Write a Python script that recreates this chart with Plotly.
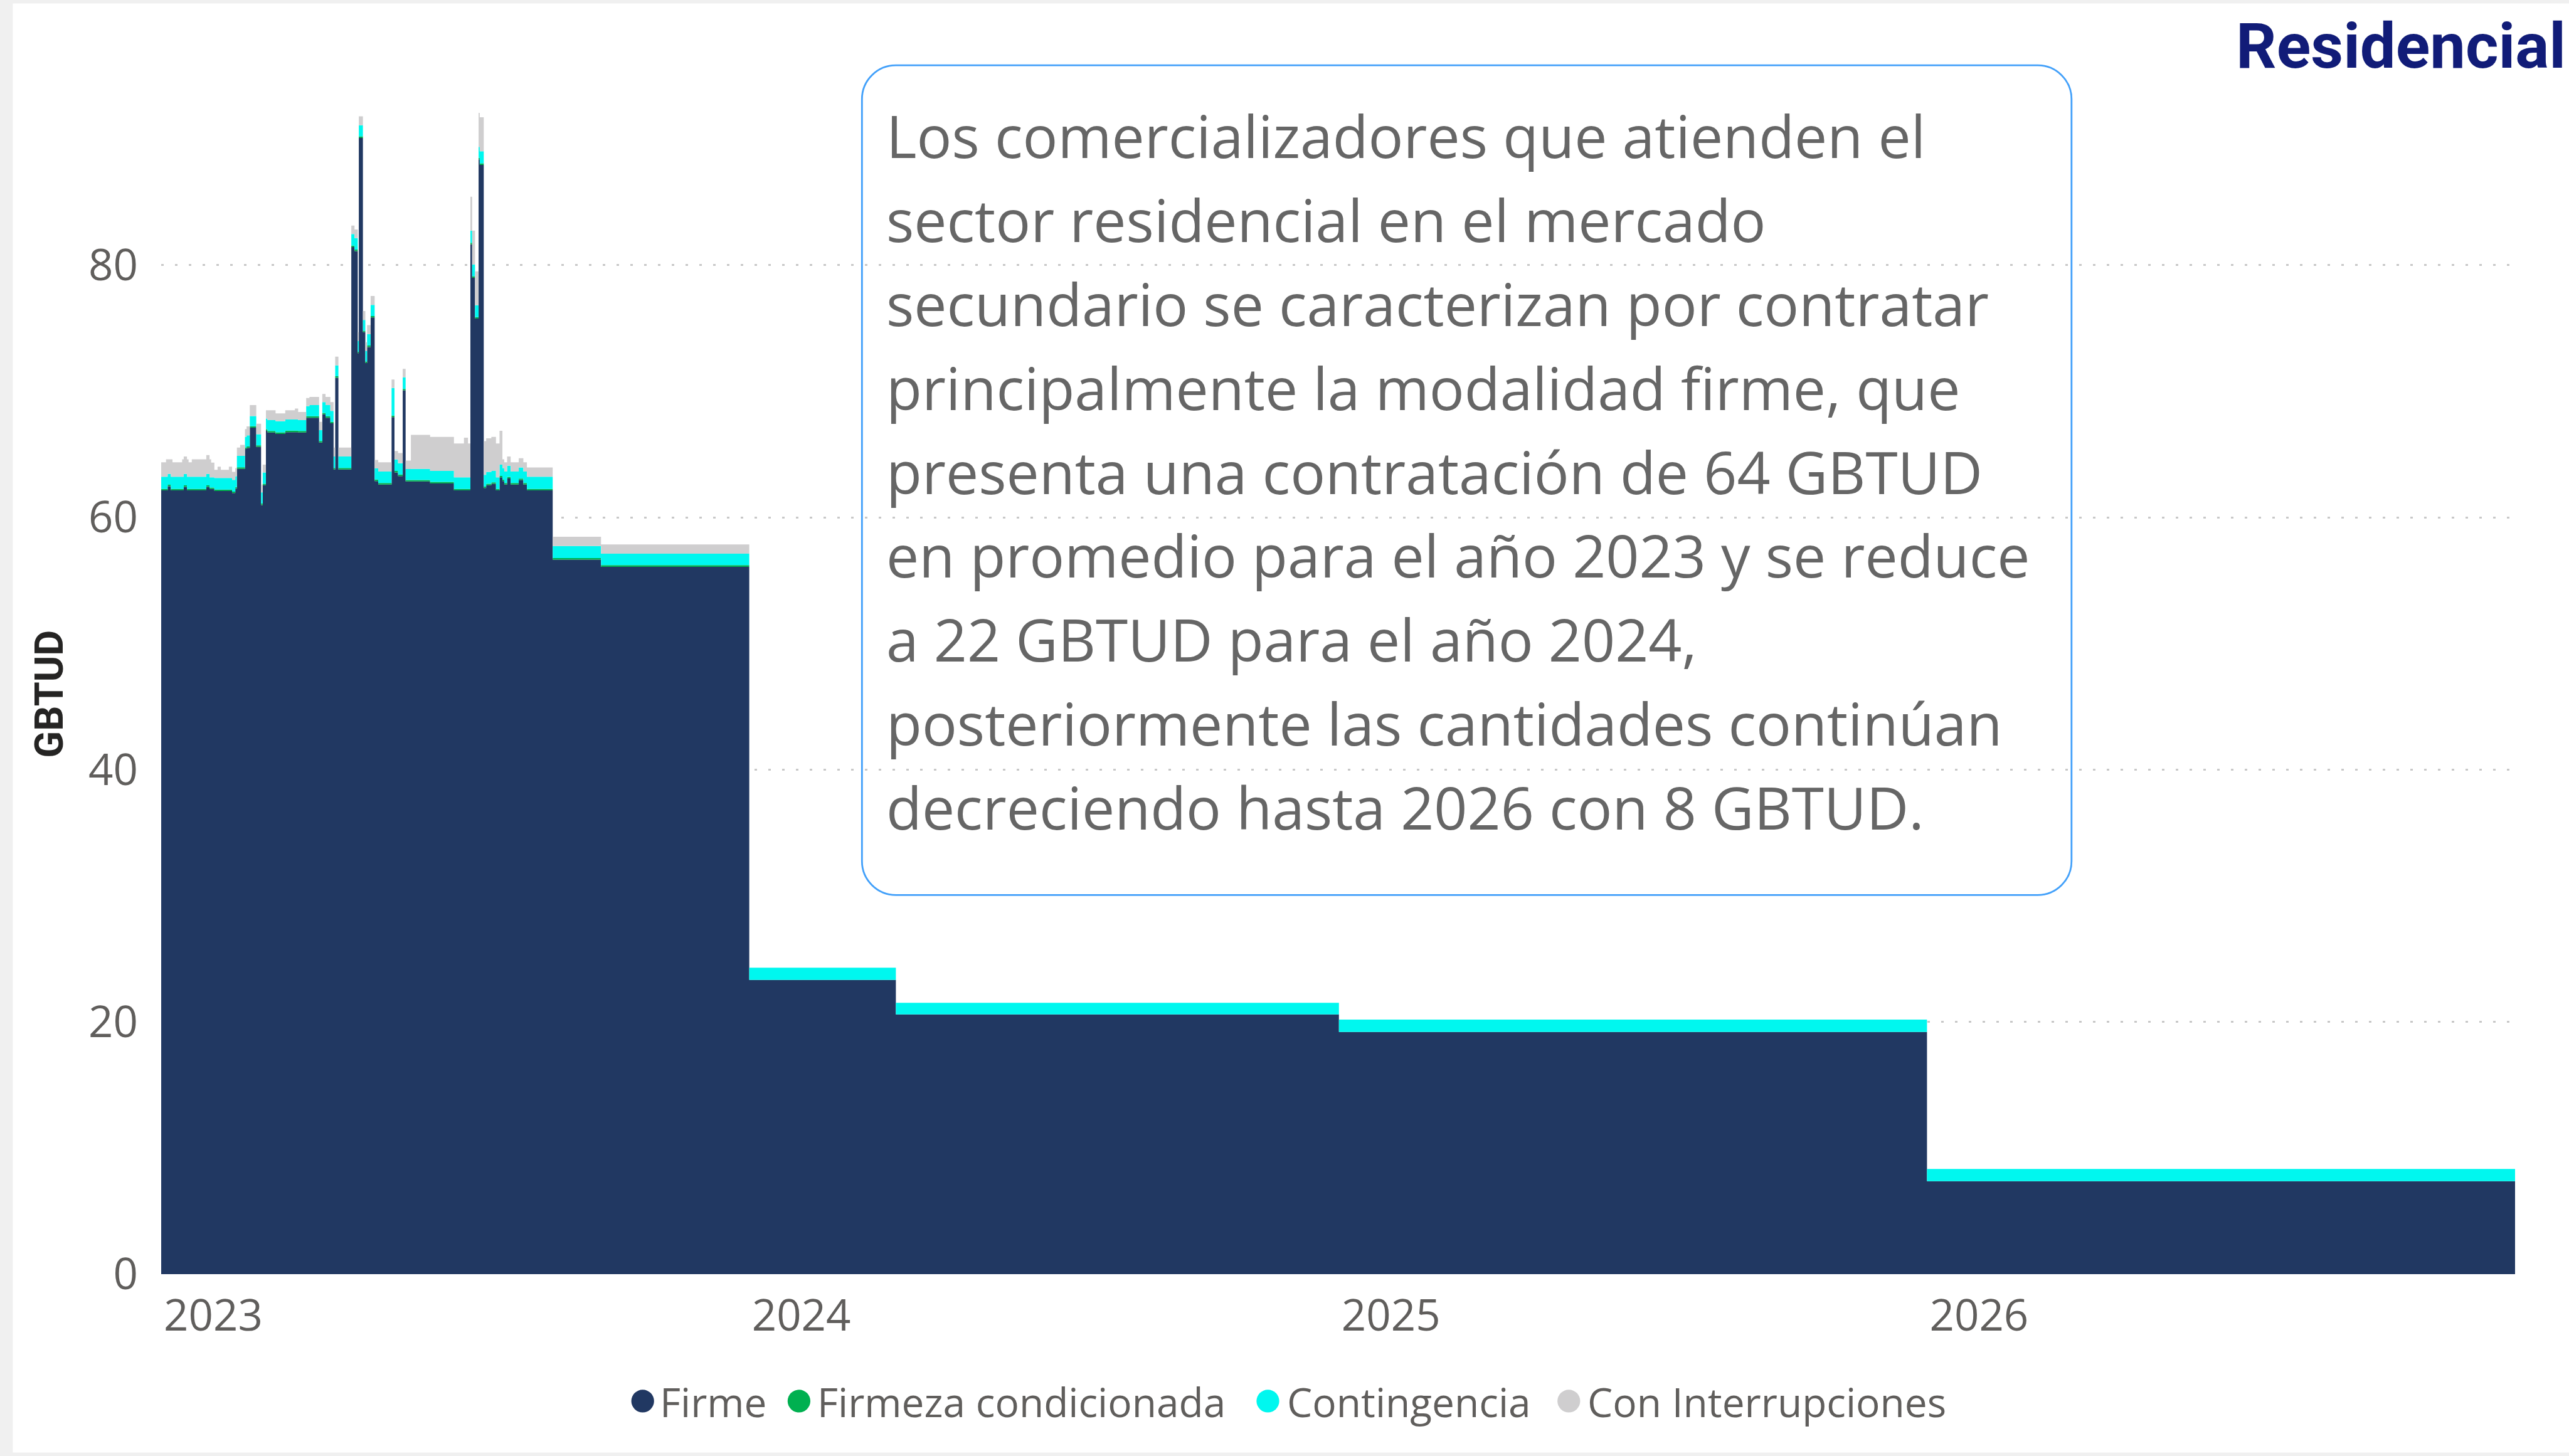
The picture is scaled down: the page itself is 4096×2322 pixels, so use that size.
import plotly.graph_objects as go

# ---------------- data ----------------
seg_start = [
    "2023-01-01", "2023-01-04", "2023-01-05", "2023-01-07", "2023-01-08", "2023-01-14", "2023-01-15", "2023-01-17", "2023-01-18", "2023-01-20",
    "2023-01-29", "2023-01-31", "2023-02-01", "2023-02-03", "2023-02-05", "2023-02-07", "2023-02-12", "2023-02-14", "2023-02-16", "2023-02-17",
    "2023-02-19", "2023-02-22", "2023-02-23", "2023-02-25", "2023-03-01", "2023-03-04", "2023-03-05", "2023-03-07", "2023-03-08", "2023-03-13",
    "2023-03-19", "2023-03-25", "2023-03-27", "2023-04-01", "2023-04-03", "2023-04-09", "2023-04-11", "2023-04-13", "2023-04-16", "2023-04-18",
    "2023-04-19", "2023-04-21", "2023-04-29", "2023-05-01", "2023-05-03", "2023-05-03 16:00", "2023-05-06 05:00", "2023-05-07 17:00", "2023-05-08 19:00", "2023-05-11",
    "2023-05-13 12:00", "2023-05-15 17:00", "2023-05-24", "2023-05-25 19:00", "2023-05-28", "2023-05-30 22:00", "2023-06-01 17:00", "2023-06-05", "2023-06-16 22:00", "2023-07-01 17:00",
    "2023-07-07 22:00", "2023-07-10 10:00", "2023-07-11 22:00", "2023-07-13", "2023-07-14 19:00", "2023-07-17", "2023-07-17 17:00", "2023-07-20 05:00", "2023-07-21 17:00", "2023-07-24 22:00",
    "2023-07-27 19:00", "2023-07-30", "2023-07-31 19:00", "2023-08-01 22:00", "2023-08-03 17:00", "2023-08-05 22:00", "2023-08-10 22:00", "2023-08-13 19:00", "2023-08-16", "2023-09-01",
    "2023-10-01", "2024-01-01", "2024-04-01", "2025-01-01", "2026-01-01",
]
end_date = "2027-01-01"

firme = [
    62.14, 62.14, 62.47, 62.14, 62.14, 62.14, 62.42, 62.14, 62.14, 62.14,
    62.42, 62.25, 62.25, 62.09, 62.09, 62.09, 62.09, 61.93, 62.28, 63.85,
    63.85, 65.43, 65.51, 67.11, 65.59, 60.98, 62.55, 66.87, 66.73, 66.62,
    66.76, 66.76, 66.73, 67.90, 67.90, 65.94, 68.17, 67.90, 67.46, 63.80,
    71.07, 63.80, 81.43, 81.11, 73.02, 90.09, 74.68, 72.24, 73.51, 75.85,
    62.88, 62.61, 67.95, 63.56, 63.28, 70.07, 62.85, 62.85, 62.69, 62.14,
    62.14, 62.14, 81.65, 79.00, 75.76, 88.38, 87.95, 62.33, 62.55, 62.66,
    62.14, 63.17, 62.88, 62.61, 63.09, 62.61, 62.96, 62.61, 62.14, 56.65,
    56.08, 23.33, 20.60, 19.20, 7.37,
]
firmeza = [
    0.12, 0.12, 0.12, 0.12, 0.12, 0.12, 0.12, 0.12, 0.12, 0.12,
    0.12, 0.12, 0.12, 0.12, 0.12, 0.12, 0.12, 0.12, 0.12, 0.12,
    0.12, 0.12, 0.12, 0.12, 0.12, 0.12, 0.12, 0.12, 0.12, 0.12,
    0.12, 0.12, 0.12, 0.12, 0.12, 0.12, 0.12, 0.12, 0.12, 0.12,
    0.12, 0.12, 0.12, 0.12, 0.12, 0.12, 0.12, 0.12, 0.12, 0.12,
    0.12, 0.12, 0.12, 0.12, 0.12, 0.12, 0.12, 0.12, 0.12, 0.12,
    0.12, 0.12, 0.12, 0.12, 0.12, 0.12, 0.12, 0.12, 0.12, 0.12,
    0.12, 0.12, 0.12, 0.12, 0.12, 0.12, 0.12, 0.12, 0.12, 0.12,
    0.14, 0.00, 0.00, 0.00, 0.00,
]
contingencia = [
    0.97, 0.97, 0.86, 0.97, 0.97, 0.97, 0.91, 0.97, 0.97, 0.97,
    0.91, 0.80, 0.80, 0.91, 0.91, 0.91, 0.91, 0.93, 0.86, 0.91,
    0.91, 0.83, 0.88, 0.80, 0.88, 0.88, 0.89, 0.85, 0.86, 0.89,
    0.88, 0.88, 0.86, 0.80, 0.88, 0.86, 0.85, 0.88, 0.86, 0.91,
    0.86, 0.91, 0.92, 0.91, 0.86, 0.88, 0.86, 0.85, 0.91, 0.88,
    0.88, 0.91, 2.19, 0.91, 0.89, 0.91, 0.86, 0.88, 0.88, 0.92,
    0.92, 0.92, 0.97, 0.93, 0.94, 0.88, 0.96, 0.92, 0.94, 0.91,
    0.92, 0.89, 0.91, 0.91, 0.89, 0.91, 0.88, 0.91, 0.97, 0.96,
    0.90, 0.97, 0.92, 0.98, 0.97,
]
interrupciones = [
    1.14, 1.38, 1.16, 1.38, 1.14, 1.38, 1.38, 1.38, 1.14, 1.38,
    1.49, 1.44, 1.17, 0.65, 0.90, 0.65, 0.90, 0.63, 0.65, 0.66,
    0.87, 0.62, 0.71, 0.87, 0.84, 0.63, 0.62, 0.65, 0.79, 0.62,
    0.73, 0.87, 0.65, 0.65, 0.65, 0.65, 0.65, 0.65, 0.70, 0.71,
    0.70, 0.71, 0.67, 0.68, 0.68, 0.71, 0.70, 0.68, 0.71, 0.70,
    0.68, 0.73, 0.67, 0.67, 0.81, 0.68, 0.67, 2.69, 2.69, 2.68,
    3.14, 2.68, 2.68, 2.69, 2.69, 2.69, 2.69, 2.68, 2.66, 2.69,
    2.68, 2.69, 0.70, 0.73, 0.73, 0.73, 0.73, 0.73, 0.73, 0.73,
    0.74, 0.00, 0.00, 0.00, 0.00,
]

series_names = ["Firme", "Firmeza condicionada", "Contingencia", "Con Interrupciones"]
series_colors = ["#213862", "#00B050", "#00F7EF", "#CFCECF"]

year_ticks = ["2023-01-01", "2024-01-01", "2025-01-01", "2026-01-01"]
year_labels = ["2023", "2024", "2025", "2026"]
y_ticks = [0, 20, 40, 60, 80]

title_text = "Residencial"
y_title = "GBTUD"
text_lines = [
    "Los comercializadores que atienden el",
    "sector residencial en el mercado",
    "secundario se caracterizan por contratar",
    "principalmente la modalidad firme, que",
    "presenta una contratación de 64 GBTUD",
    "en promedio para el año 2023 y se reduce",
    "a 22 GBTUD para el año 2024,",
    "posteriormente las cantidades continúan",
    "decreciendo hasta 2026 con 8 GBTUD.",
]

# ---------------- geometry ----------------
W, H = 4096, 2322
S = W / 4405.0
ML, MR, MT, MB = 257, 86, 101, 290
PW = W - ML - MR
PB = H - MB
PH = PB - MT


def px(xw):
    return (xw - ML) / PW


def py(yw):
    return (PB - yw) / PH


def fx(xf):  # reference full-size px -> paper x
    return px(xf * S)


def fy(yf):
    return py(yf * S)


fig = go.Figure()

x_vals = seg_start + [end_date]
for name, vals, col in zip(series_names, [firme, firmeza, contingencia, interrupciones], series_colors):
    fig.add_trace(go.Scatter(
        x=x_vals, y=list(vals) + [vals[-1]], name=name, mode="lines",
        stackgroup="one", line=dict(width=0, shape="hv", color=col),
        fillcolor=col, showlegend=False, hoverinfo="skip",
    ))

TICK_FONT = dict(family="Open Sans", size=69, color="#605E5C")

fig.update_xaxes(
    type="date", range=["2023-01-01", end_date],
    tickvals=year_ticks, ticktext=year_labels,
    showgrid=False, zeroline=False, showline=False, ticks="",
    tickfont=TICK_FONT, ticklabelshift=83, ticklabelstandoff=20,
)
fig.update_yaxes(
    range=[0, 96], tickvals=y_ticks,
    showgrid=True, gridcolor="#C8C8C8", griddash="4px,18px", gridwidth=3.3,
    zeroline=False, showline=False, ticks="",
    tickfont=TICK_FONT, ticklabelstandoff=36,
)

shapes = []
# white card over grey page background
shapes.append(dict(type="rect", xref="paper", yref="paper", layer="below",
                   x0=px(20.5), x1=px(W + 20), y0=py(2316.5), y1=py(5.6),
                   fillcolor="white", line=dict(width=0)))

# rounded text box
x0, y0, x1, y1, r = 1478 * S, 112 * S, 3552 * S, 1535 * S, 54.0
k = 0.5523 * r


def P(a, b):
    return f"{px(a):.6f},{py(b):.6f}"


path = (
    f"M {P(x0 + r, y0)} L {P(x1 - r, y0)} "
    f"C {P(x1 - r + k, y0)} {P(x1, y0 + r - k)} {P(x1, y0 + r)} "
    f"L {P(x1, y1 - r)} "
    f"C {P(x1, y1 - r + k)} {P(x1 - r + k, y1)} {P(x1 - r, y1)} "
    f"L {P(x0 + r, y1)} "
    f"C {P(x0 + r - k, y1)} {P(x0, y1 - r + k)} {P(x0, y1 - r)} "
    f"L {P(x0, y0 + r)} "
    f"C {P(x0, y0 + r - k)} {P(x0 + r - k, y0)} {P(x0 + r, y0)} Z"
)
shapes.append(dict(type="path", xref="paper", yref="paper", layer="above",
                   path=path, line=dict(color="#42A0FA", width=2.8)))

# legend dots
dot_cx = [1102, 1370, 2174, 2690]
dot_cy = 2403
rad = 19.5
for cx, col in zip(dot_cx, series_colors):
    shapes.append(dict(type="circle", xref="paper", yref="paper", layer="above",
                       x0=fx(cx - rad), x1=fx(cx + rad), y0=fy(dot_cy + rad), y1=fy(dot_cy - rad),
                       fillcolor=col, line=dict(width=0)))

annotations = []
# text lines in the box
TXT = 93
for i, line in enumerate(text_lines):
    base = (271 + 144 * i) * S
    annotations.append(dict(
        text=line, xref="paper", yref="paper", x=px(1527 * S - 9), y=py(base - 0.388 * TXT),
        xanchor="left", yanchor="middle", showarrow=False,
        font=dict(family="Open Sans", size=TXT, color="#666666"),
    ))

# legend labels
leg_tx = [1137, 1407, 2212, 2727]
LEG = 64
for tx, name in zip(leg_tx, series_names):
    annotations.append(dict(
        text=name, xref="paper", yref="paper", x=px(tx * S - 7), y=py(2431 * S - 0.388 * LEG),
        xanchor="left", yanchor="middle", showarrow=False,
        font=dict(family="Open Sans", size=LEG, color="#605E5C"),
    ))

# y-axis title
annotations.append(dict(
    text=f"<b>{y_title}</b>", xref="paper", yref="paper", x=fx(84), y=fy(1190),
    xanchor="center", yanchor="middle", textangle=-90, showarrow=False,
    font=dict(family="Roboto", size=63, color="#252423"),
))

# title (top-right, ending at the right edge)
TT = 101
annotations.append(dict(
    text=f"<b>{title_text}</b>", xref="paper", yref="paper", x=px(W - 3), y=py(116 * S - 0.342 * TT),
    xanchor="right", yanchor="middle", showarrow=False,
    font=dict(family="Roboto", size=TT, color="#111C78"),
))

fig.update_layout(
    width=W, height=H,
    margin=dict(l=ML, r=MR, t=MT, b=MB, pad=0),
    paper_bgcolor="#F0F0F0", plot_bgcolor="rgba(0,0,0,0)",
    shapes=shapes, annotations=annotations, showlegend=False,
)

fig.write_html(
    "out.html",
    config={"displayModeBar": False},
    post_script="document.body.style.margin='0';document.body.style.overflow='hidden';",
)
